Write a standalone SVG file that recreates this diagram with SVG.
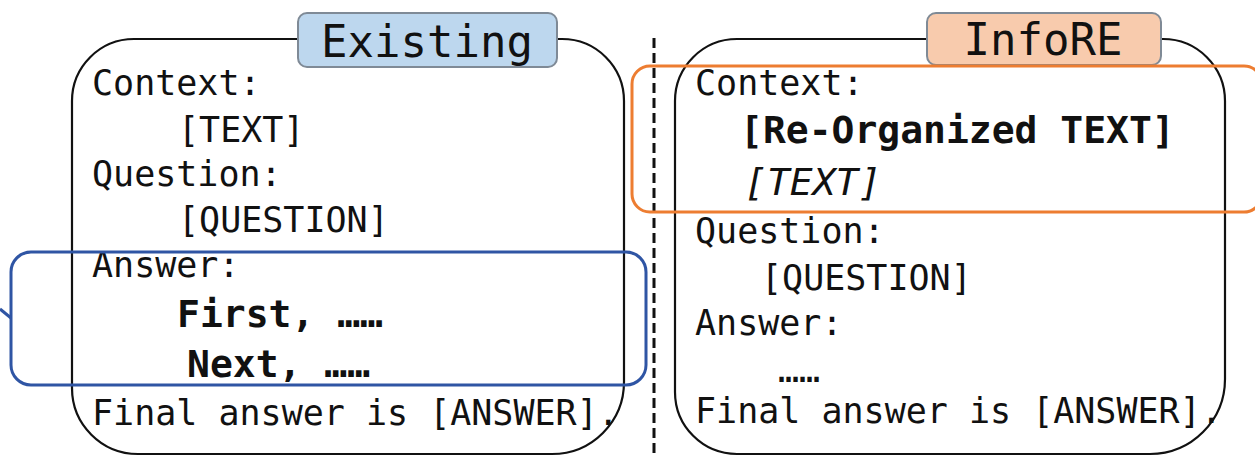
<svg xmlns="http://www.w3.org/2000/svg" width="1255" height="457" viewBox="0 0 1255 457">
  <style>
    .panel { fill: #ffffff; stroke: #111111; stroke-width: 2.2; }
    .tag { stroke: #7f8a96; stroke-width: 2; }
    .tag-blue { fill: #bdd7ee; }
    .tag-orange { fill: #f8cbad; }
    .tag-text { font-family: "DejaVu Sans Mono", "Liberation Mono", monospace; font-size: 44px; fill: #111111; text-anchor: middle; }
    .t { font-family: "DejaVu Sans Mono", "Liberation Mono", monospace; font-size: 35px; fill: #111111; }
    .b { font-weight: bold; font-size: 38px; }
    .i { font-style: italic; font-size: 38px; }
    .hl-blue { fill: none; stroke: #2f55a4; stroke-width: 3; }
    .hl-orange { fill: none; stroke: #ed7d31; stroke-width: 3; }
    .divider { stroke: #111111; stroke-width: 3; stroke-dasharray: 10 5; }
  </style>

  <rect width="1255" height="457" fill="#ffffff"/>

  <!-- separator between the two prompt formats -->
  <line class="divider" x1="654" y1="38" x2="654" y2="457"/>

  <!-- left panel: existing prompt -->
  <g id="existing">
    <path class="panel" d="M 134 39 H 562 A 62 62 0 0 1 624 101 V 382 A 72 72 0 0 1 552 454 H 138 A 66 66 0 0 1 72 388 V 101 A 62 62 0 0 1 134 39 Z"/>
    <rect class="tag tag-blue" x="298" y="13" width="259" height="54" rx="9" ry="9"/>
    <text class="tag-text" x="427" y="57">Existing</text>
    <text class="t" x="92" y="95">Context:</text>
    <text class="t" x="178" y="142">[TEXT]</text>
    <text class="t" x="92" y="186">Question:</text>
    <text class="t" x="178" y="232">[QUESTION]</text>
    <text class="t" x="92" y="277">Answer:</text>
    <text class="t b" x="177" y="327">First, ……</text>
    <text class="t b" x="187" y="377">Next, ……</text>
    <text class="t" x="92" y="425">Final answer is [ANSWER].</text>
  </g>

  <!-- right panel: InfoRE prompt -->
  <g id="infore">
    <path class="panel" d="M 737 39 H 1163 A 62 62 0 0 1 1225 101 V 379 A 75 75 0 0 1 1150 454 H 737 A 62 62 0 0 1 675 392 V 101 A 62 62 0 0 1 737 39 Z"/>
    <rect class="tag tag-orange" x="927" y="13" width="234" height="52" rx="9" ry="9"/>
    <text class="tag-text" x="1043" y="55">InfoRE</text>
    <text class="t" x="695" y="95">Context:</text>
    <text class="t b" x="740" y="143">[Re-Organized TEXT]</text>
    <text class="t i" x="744" y="195">[TEXT]</text>
    <text class="t" x="695" y="243">Question:</text>
    <text class="t" x="761" y="290">[QUESTION]</text>
    <text class="t" x="695" y="335">Answer:</text>
    <text class="t" x="778" y="382">……</text>
    <text class="t" x="695" y="423">Final answer is [ANSWER].</text>
  </g>

  <!-- highlight frames and lead line -->
  <g id="connectors">
    <rect class="hl-blue" x="11" y="252" width="635" height="133" rx="20" ry="20"/>
    <rect class="hl-orange" x="632" y="66" width="630" height="146" rx="18" ry="18"/>
    <line class="hl-blue" x1="0" y1="309" x2="11" y2="318" stroke-width="2"/>
  </g>
</svg>
